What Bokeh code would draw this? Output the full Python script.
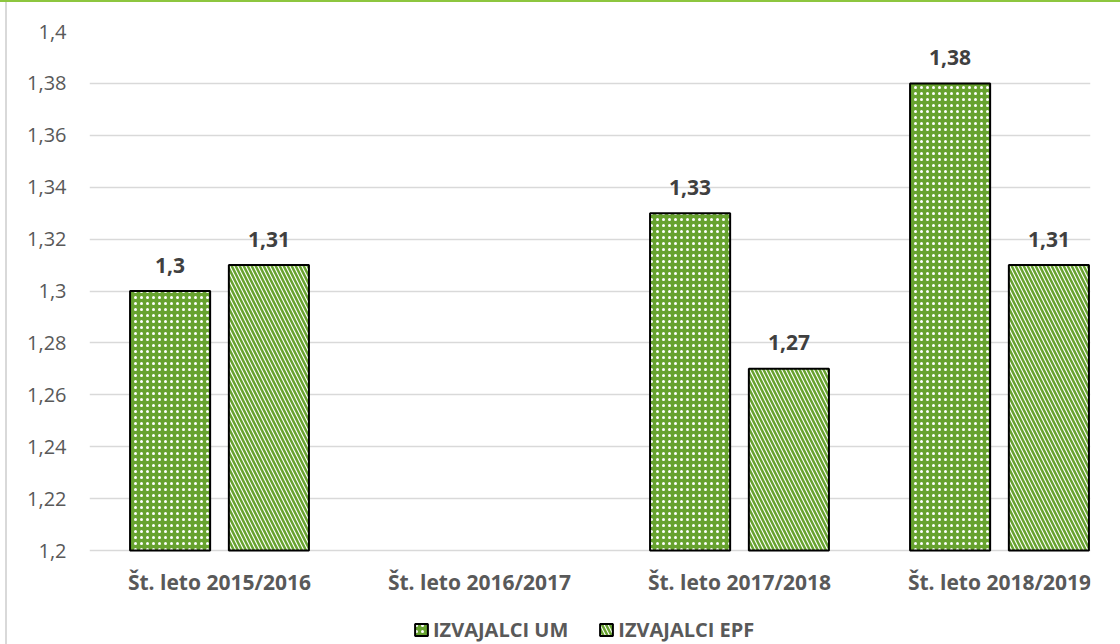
from bokeh.plotting import figure
from bokeh.models import (Range1d, FixedTicker, CustomJSTickFormatter, ColumnDataSource,
                          Legend, LegendItem)
from bokeh.core.properties import value
from bokeh.embed import file_html
from bokeh.resources import INLINE

# ---- data ----
categories = ["Št. leto 2015/2016", "Št. leto 2016/2017", "Št. leto 2017/2018", "Št. leto 2018/2019"]
series_names = ["IZVAJALCI UM", "IZVAJALCI EPF"]
um_values = [1.30, None, 1.33, 1.38]
epf_values = [1.31, None, 1.27, 1.31]
y_ticks = [1.20, 1.22, 1.24, 1.26, 1.28, 1.30, 1.32, 1.34, 1.36, 1.38, 1.40]

FONT = "Open Sans"
GREEN = "#67A22F"
AXIS_GREY = "#595959"
LABEL_DARK = "#404040"

OFFSET = 0.19
BAR_W = 0.308
Y_MIN, Y_MAX = y_ticks[0], y_ticks[-1]
PLOT_PX = 519.0   # pixel height of the value area
EXTRA_PX = 94.0   # room below the value area for category labels and legend


def series_source(vals, shift):
    xs, tops, texts = [], [], []
    for i, v in enumerate(vals):
        if v is None:
            continue
        xs.append(i + 0.5 + shift)
        tops.append(v)
        texts.append(str(v).replace(".", ","))
    return ColumnDataSource(dict(x=xs, top=tops, text=texts))


src_um = series_source(um_values, -OFFSET)
src_epf = series_source(epf_values, OFFSET)

y_start = Y_MIN - (Y_MAX - Y_MIN) * EXTRA_PX / PLOT_PX

p = figure(width=1120, height=644, output_backend="svg", toolbar_location=None,
           x_range=Range1d(0, 3.85), y_range=Range1d(y_start, Y_MAX),
           min_border_left=89, min_border_right=30, min_border_top=31, min_border_bottom=0)
p.outline_line_color = None
p.border_fill_color = None
p.styles = {"box-shadow": "inset 0 2px 0 #8DC63F, inset 5px 0 0 #ffffff, inset 7px 0 0 #d9d9d9"}
p.xaxis.visible = False

r_um = p.vbar(x="x", top="top", bottom=Y_MIN, width=BAR_W, source=src_um,
              fill_color=GREEN, line_color="black", line_width=2,
              hatch_pattern="dot", hatch_color="white", hatch_scale=6, hatch_weight=1)
r_epf = p.vbar(x="x", top="top", bottom=Y_MIN, width=BAR_W, source=src_epf,
               fill_color="white", line_color="black", line_width=2,
               hatch_pattern="left_diagonal_line", hatch_color=GREEN, hatch_scale=8, hatch_weight=2.5)

for src in (src_um, src_epf):
    p.text(x="x", y="top", text="text", source=src, text_align="center",
           text_baseline="middle", y_offset=-26, text_font=value(FONT),
           text_font_style="bold", text_font_size="21px", text_color=LABEL_DARK)

# category labels under the value area
cat_src = ColumnDataSource(dict(x=[i + 0.5 for i in range(len(categories))],
                                y=[Y_MIN] * len(categories), text=categories))
p.text(x="x", y="y", text="text", source=cat_src, text_align="center",
       text_baseline="middle", y_offset=31, text_font=value(FONT),
       text_font_style="bold", text_font_size="21px", text_color=AXIS_GREY)

# grid
p.xgrid.visible = False
p.ygrid.grid_line_color = "#d9d9d9"
p.ygrid.grid_line_width = 1.5
p.ygrid.ticker = FixedTicker(ticks=y_ticks)

# y axis
p.yaxis.ticker = FixedTicker(ticks=y_ticks)
p.yaxis.formatter = CustomJSTickFormatter(
    code="return (Math.round(tick*100)/100).toString().replace('.', ',');")
p.yaxis.axis_line_color = None
p.yaxis.major_tick_line_color = None
p.yaxis.minor_tick_line_color = None
p.yaxis.major_tick_out = 0
p.yaxis.major_label_text_font = FONT
p.yaxis.major_label_text_font_size = "20px"
p.yaxis.major_label_text_color = AXIS_GREY
p.yaxis.major_label_standoff = 23

legend = Legend(items=[LegendItem(label=series_names[0], renderers=[r_um]),
                       LegendItem(label=series_names[1], renderers=[r_epf])],
                orientation="horizontal", location=(324, 1),
                padding=0, margin=0, spacing=30, label_standoff=4,
                glyph_width=16, glyph_height=15, label_height=15,
                border_line_color=None, background_fill_alpha=0,
                label_text_font=FONT, label_text_font_style="bold",
                label_text_font_size="20px", label_text_color=AXIS_GREY)
p.add_layout(legend, "center")

open("out.html", "w").write(file_html(p, INLINE))
